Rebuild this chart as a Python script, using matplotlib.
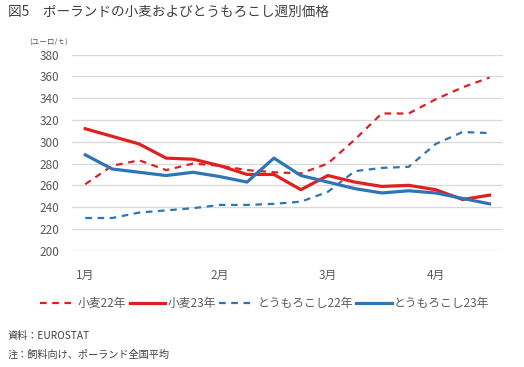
import matplotlib.pyplot as plt
import numpy as np

plt.rcParams['font.family'] = ['Noto Sans CJK JP', 'DejaVu Sans']

# Weekly prices (euro/t), weeks 1-16
weeks = list(range(1, 17))
wheat22 = [261, 278, 283, 274, 280, 278, 274, 272, 271, 280, 302, 326, 326, 339, 350, 359]
wheat23 = [312, 305, 298, 285, 284, 278, 270, 270, 256, 269, 263, 259, 260, 256, 247, 251]
corn22 = [230, 230, 235, 237, 239, 242, 242, 243, 245, 254, 273, 276, 277, 298, 309, 308]
corn23 = [288, 275, 272, 269, 272, 268, 263, 285, 269, 263, 257, 253, 255, 253, 248, 243]

month_pos = [0, 5, 9, 13]
month_labels = ['1月', '2月', '3月', '4月']

red = '#e0201e'
blue = '#2e75b6'
gray = '#595959'

fig = plt.figure(figsize=(5.24, 3.67), dpi=100)
ax = fig.add_axes([0.137, 0.317, 0.823, 0.534])

x = np.arange(len(weeks))
ax.plot(x, wheat22, color=red, lw=1.6, ls=(0, (3, 2.5)), label='小麦22年')
ax.plot(x, wheat23, color=red, lw=2.3, label='小麦23年')
ax.plot(x, corn22, color=blue, lw=1.6, ls=(0, (3, 2.5)), label='とうもろこし22年')
ax.plot(x, corn23, color=blue, lw=2.3, label='とうもろこし23年')

ax.set_xlim(-0.5, len(weeks) - 0.5)
ax.set_ylim(200, 380)
ax.set_yticks(range(200, 381, 20))
ax.set_xticks(month_pos)
ax.set_xticklabels(month_labels)
ax.tick_params(length=0, labelsize=8.5, colors=gray)
ax.tick_params(axis='x', pad=13)
ax.tick_params(axis='y', pad=9)
ax.grid(axis='y', color='#d9d9d9', lw=0.9)
ax.set_axisbelow(True)
for s in ax.spines.values():
    s.set_visible(False)

fig.text(0.015, 0.967, '図5　ポーランドの小麦およびとうもろこし週別価格',
         fontsize=9.8, color='#404040', va='center')
fig.text(0.055, 0.887, '(ユーロ/ｔ)', fontsize=5.5, color=gray, va='center')

fig.legend(loc='center', bbox_to_anchor=(0.505, 0.172), ncol=4, frameon=False,
           fontsize=8.5, handlelength=3.0, handletextpad=0.2, columnspacing=0.3,
           labelcolor=gray)

fig.text(0.015, 0.085, '資料：EUROSTAT', fontsize=7.3, color='#404040', va='center')
fig.text(0.015, 0.033, '注：飼料向け、ポーランド全国平均', fontsize=7.3, color='#404040', va='center')

fig.savefig('out.png', dpi=100)
